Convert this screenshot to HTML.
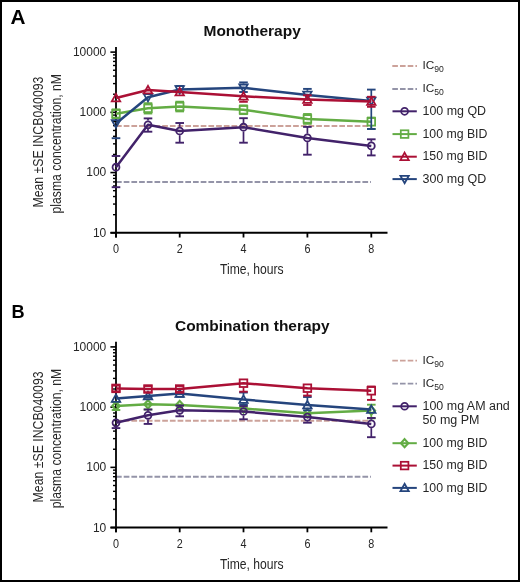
<!DOCTYPE html>
<html><head><meta charset="utf-8"><style>
html,body{margin:0;padding:0;background:#fff;}
svg{display:block;will-change:transform;}
</style></head><body>
<svg width="520" height="582" viewBox="0 0 520 582" font-family="Liberation Sans, sans-serif">
<rect x="1" y="1" width="518" height="580" fill="#fff" stroke="#000" stroke-width="2"/><text x="10.5" y="24" font-size="19.3" font-weight="bold" fill="#000" textLength="15" lengthAdjust="spacingAndGlyphs">A</text><text x="11.5" y="318.2" font-size="19" font-weight="bold" fill="#000" textLength="13.1" lengthAdjust="spacingAndGlyphs">B</text><text x="203.5" y="36.2" font-size="14.8" font-weight="bold" fill="#111" textLength="97.3" lengthAdjust="spacingAndGlyphs">Monotherapy</text><text x="175" y="330.7" font-size="14.6" font-weight="bold" fill="#111" textLength="154.6" lengthAdjust="spacingAndGlyphs">Combination therapy</text><line x1="116" y1="126" x2="371" y2="126" stroke="#cca29a" stroke-width="2" stroke-dasharray="5.7 2"/><line x1="116" y1="181.9" x2="371" y2="181.9" stroke="#9494a8" stroke-width="2" stroke-dasharray="5.7 2"/><line x1="116" y1="47" x2="116" y2="237.5" stroke="#000" stroke-width="1.8"/><line x1="110.5" y1="232.8" x2="387.5" y2="232.8" stroke="#000" stroke-width="2"/><line x1="110.4" y1="232.80" x2="116" y2="232.80" stroke="#000" stroke-width="1.6"/><text x="106.3" y="236.70" text-anchor="end" font-size="12" fill="#262626">10</text><line x1="113" y1="214.67" x2="116" y2="214.67" stroke="#000" stroke-width="1.4"/><line x1="113" y1="204.06" x2="116" y2="204.06" stroke="#000" stroke-width="1.4"/><line x1="113" y1="196.54" x2="116" y2="196.54" stroke="#000" stroke-width="1.4"/><line x1="113" y1="190.70" x2="116" y2="190.70" stroke="#000" stroke-width="1.4"/><line x1="113" y1="185.93" x2="116" y2="185.93" stroke="#000" stroke-width="1.4"/><line x1="113" y1="181.90" x2="116" y2="181.90" stroke="#000" stroke-width="1.4"/><line x1="113" y1="178.41" x2="116" y2="178.41" stroke="#000" stroke-width="1.4"/><line x1="113" y1="175.33" x2="116" y2="175.33" stroke="#000" stroke-width="1.4"/><line x1="110.4" y1="172.57" x2="116" y2="172.57" stroke="#000" stroke-width="1.6"/><text x="106.3" y="176.47" text-anchor="end" font-size="12" fill="#262626">100</text><line x1="113" y1="154.44" x2="116" y2="154.44" stroke="#000" stroke-width="1.4"/><line x1="113" y1="143.83" x2="116" y2="143.83" stroke="#000" stroke-width="1.4"/><line x1="113" y1="136.31" x2="116" y2="136.31" stroke="#000" stroke-width="1.4"/><line x1="113" y1="130.47" x2="116" y2="130.47" stroke="#000" stroke-width="1.4"/><line x1="113" y1="125.70" x2="116" y2="125.70" stroke="#000" stroke-width="1.4"/><line x1="113" y1="121.67" x2="116" y2="121.67" stroke="#000" stroke-width="1.4"/><line x1="113" y1="118.18" x2="116" y2="118.18" stroke="#000" stroke-width="1.4"/><line x1="113" y1="115.10" x2="116" y2="115.10" stroke="#000" stroke-width="1.4"/><line x1="110.4" y1="112.34" x2="116" y2="112.34" stroke="#000" stroke-width="1.6"/><text x="106.3" y="116.24" text-anchor="end" font-size="12" fill="#262626">1000</text><line x1="113" y1="94.21" x2="116" y2="94.21" stroke="#000" stroke-width="1.4"/><line x1="113" y1="83.60" x2="116" y2="83.60" stroke="#000" stroke-width="1.4"/><line x1="113" y1="76.08" x2="116" y2="76.08" stroke="#000" stroke-width="1.4"/><line x1="113" y1="70.24" x2="116" y2="70.24" stroke="#000" stroke-width="1.4"/><line x1="113" y1="65.47" x2="116" y2="65.47" stroke="#000" stroke-width="1.4"/><line x1="113" y1="61.44" x2="116" y2="61.44" stroke="#000" stroke-width="1.4"/><line x1="113" y1="57.95" x2="116" y2="57.95" stroke="#000" stroke-width="1.4"/><line x1="113" y1="54.87" x2="116" y2="54.87" stroke="#000" stroke-width="1.4"/><line x1="110.4" y1="52.11" x2="116" y2="52.11" stroke="#000" stroke-width="1.6"/><text x="106.3" y="56.01" text-anchor="end" font-size="12" fill="#262626">10000</text><line x1="116" y1="232.8" x2="116" y2="237.5" stroke="#000" stroke-width="1.8"/><text x="116" y="253.2" text-anchor="middle" font-size="12" fill="#262626" transform="translate(116,0) scale(0.9,1) translate(-116,0)">0</text><line x1="179.7" y1="232.8" x2="179.7" y2="237.5" stroke="#000" stroke-width="1.8"/><text x="179.7" y="253.2" text-anchor="middle" font-size="12" fill="#262626" transform="translate(179.7,0) scale(0.9,1) translate(-179.7,0)">2</text><line x1="243.5" y1="232.8" x2="243.5" y2="237.5" stroke="#000" stroke-width="1.8"/><text x="243.5" y="253.2" text-anchor="middle" font-size="12" fill="#262626" transform="translate(243.5,0) scale(0.9,1) translate(-243.5,0)">4</text><line x1="307.4" y1="232.8" x2="307.4" y2="237.5" stroke="#000" stroke-width="1.8"/><text x="307.4" y="253.2" text-anchor="middle" font-size="12" fill="#262626" transform="translate(307.4,0) scale(0.9,1) translate(-307.4,0)">6</text><line x1="371.3" y1="232.8" x2="371.3" y2="237.5" stroke="#000" stroke-width="1.8"/><text x="371.3" y="253.2" text-anchor="middle" font-size="12" fill="#262626" transform="translate(371.3,0) scale(0.9,1) translate(-371.3,0)">8</text><text x="220.1" y="274.2" font-size="15" fill="#262626" textLength="63.6" lengthAdjust="spacingAndGlyphs">Time, hours</text><g transform="translate(42.9,207.6) rotate(-90)"><text x="0" y="0" font-size="15" fill="#262626" textLength="131" lengthAdjust="spacingAndGlyphs">Mean ±SE INCB040093</text></g><g transform="translate(61.1,213.4) rotate(-90)"><text x="0" y="0" font-size="15" fill="#262626" textLength="139.3" lengthAdjust="spacingAndGlyphs">plasma concentration, nM</text></g><path d="M116,167.2 L148,124.8 L179.7,131 L243.5,127.2 L307.4,137.9 L371.3,145.9" fill="none" stroke="#42226a" stroke-width="2.5" stroke-linejoin="round"/><line x1="111.70" y1="156" x2="120.30" y2="156" stroke="#42226a" stroke-width="1.9"/><line x1="111.70" y1="187.2" x2="120.30" y2="187.2" stroke="#42226a" stroke-width="1.9"/><line x1="148" y1="118.4" x2="148" y2="120.60" stroke="#42226a" stroke-width="1.7"/><line x1="143.70" y1="118.4" x2="152.30" y2="118.4" stroke="#42226a" stroke-width="1.9"/><line x1="148" y1="129.00" x2="148" y2="131.7" stroke="#42226a" stroke-width="1.7"/><line x1="143.70" y1="131.7" x2="152.30" y2="131.7" stroke="#42226a" stroke-width="1.9"/><line x1="179.7" y1="123" x2="179.7" y2="126.80" stroke="#42226a" stroke-width="1.7"/><line x1="175.40" y1="123" x2="184.00" y2="123" stroke="#42226a" stroke-width="1.9"/><line x1="179.7" y1="135.20" x2="179.7" y2="142.7" stroke="#42226a" stroke-width="1.7"/><line x1="175.40" y1="142.7" x2="184.00" y2="142.7" stroke="#42226a" stroke-width="1.9"/><line x1="243.5" y1="118.2" x2="243.5" y2="123.00" stroke="#42226a" stroke-width="1.7"/><line x1="239.20" y1="118.2" x2="247.80" y2="118.2" stroke="#42226a" stroke-width="1.9"/><line x1="243.5" y1="131.40" x2="243.5" y2="142.7" stroke="#42226a" stroke-width="1.7"/><line x1="239.20" y1="142.7" x2="247.80" y2="142.7" stroke="#42226a" stroke-width="1.9"/><line x1="307.4" y1="126.9" x2="307.4" y2="133.70" stroke="#42226a" stroke-width="1.7"/><line x1="303.10" y1="126.9" x2="311.70" y2="126.9" stroke="#42226a" stroke-width="1.9"/><line x1="307.4" y1="142.10" x2="307.4" y2="154.7" stroke="#42226a" stroke-width="1.7"/><line x1="303.10" y1="154.7" x2="311.70" y2="154.7" stroke="#42226a" stroke-width="1.9"/><line x1="371.3" y1="139.3" x2="371.3" y2="141.70" stroke="#42226a" stroke-width="1.7"/><line x1="367.00" y1="139.3" x2="375.60" y2="139.3" stroke="#42226a" stroke-width="1.9"/><line x1="371.3" y1="150.10" x2="371.3" y2="155.4" stroke="#42226a" stroke-width="1.7"/><line x1="367.00" y1="155.4" x2="375.60" y2="155.4" stroke="#42226a" stroke-width="1.9"/><circle cx="116" cy="167.2" r="3.45" fill="none" stroke="#42226a" stroke-width="1.8"/><circle cx="148" cy="124.8" r="3.45" fill="none" stroke="#42226a" stroke-width="1.8"/><circle cx="179.7" cy="131" r="3.45" fill="none" stroke="#42226a" stroke-width="1.8"/><circle cx="243.5" cy="127.2" r="3.45" fill="none" stroke="#42226a" stroke-width="1.8"/><circle cx="307.4" cy="137.9" r="3.45" fill="none" stroke="#42226a" stroke-width="1.8"/><circle cx="371.3" cy="145.9" r="3.45" fill="none" stroke="#42226a" stroke-width="1.8"/><path d="M116,113.8 L148,108.3 L179.7,106.5 L243.5,109.8 L307.4,118.9 L371.3,121.8" fill="none" stroke="#63ac44" stroke-width="2.5" stroke-linejoin="round"/><line x1="111.70" y1="109.4" x2="120.30" y2="109.4" stroke="#63ac44" stroke-width="1.9"/><line x1="111.70" y1="118.2" x2="120.30" y2="118.2" stroke="#63ac44" stroke-width="1.9"/><line x1="148" y1="103.2" x2="148" y2="104.10" stroke="#63ac44" stroke-width="1.7"/><line x1="143.70" y1="103.2" x2="152.30" y2="103.2" stroke="#63ac44" stroke-width="1.9"/><line x1="148" y1="112.50" x2="148" y2="113.5" stroke="#63ac44" stroke-width="1.7"/><line x1="143.70" y1="113.5" x2="152.30" y2="113.5" stroke="#63ac44" stroke-width="1.9"/><line x1="179.7" y1="101.7" x2="179.7" y2="102.30" stroke="#63ac44" stroke-width="1.7"/><line x1="175.40" y1="101.7" x2="184.00" y2="101.7" stroke="#63ac44" stroke-width="1.9"/><line x1="179.7" y1="110.70" x2="179.7" y2="111.4" stroke="#63ac44" stroke-width="1.7"/><line x1="175.40" y1="111.4" x2="184.00" y2="111.4" stroke="#63ac44" stroke-width="1.9"/><line x1="243.5" y1="105.4" x2="243.5" y2="105.60" stroke="#63ac44" stroke-width="1.7"/><line x1="239.20" y1="105.4" x2="247.80" y2="105.4" stroke="#63ac44" stroke-width="1.9"/><line x1="243.5" y1="114.00" x2="243.5" y2="114.1" stroke="#63ac44" stroke-width="1.7"/><line x1="239.20" y1="114.1" x2="247.80" y2="114.1" stroke="#63ac44" stroke-width="1.9"/><line x1="307.4" y1="114" x2="307.4" y2="114.70" stroke="#63ac44" stroke-width="1.7"/><line x1="303.10" y1="114" x2="311.70" y2="114" stroke="#63ac44" stroke-width="1.9"/><line x1="307.4" y1="123.10" x2="307.4" y2="123.8" stroke="#63ac44" stroke-width="1.7"/><line x1="303.10" y1="123.8" x2="311.70" y2="123.8" stroke="#63ac44" stroke-width="1.9"/><line x1="367.00" y1="117.6" x2="375.60" y2="117.6" stroke="#63ac44" stroke-width="1.9"/><line x1="371.3" y1="126.00" x2="371.3" y2="129" stroke="#63ac44" stroke-width="1.7"/><line x1="367.00" y1="129" x2="375.60" y2="129" stroke="#63ac44" stroke-width="1.9"/><rect x="112.20" y="110.00" width="7.6" height="7.6" fill="none" stroke="#63ac44" stroke-width="1.8"/><rect x="144.20" y="104.50" width="7.6" height="7.6" fill="none" stroke="#63ac44" stroke-width="1.8"/><rect x="175.90" y="102.70" width="7.6" height="7.6" fill="none" stroke="#63ac44" stroke-width="1.8"/><rect x="239.70" y="106.00" width="7.6" height="7.6" fill="none" stroke="#63ac44" stroke-width="1.8"/><rect x="303.60" y="115.10" width="7.6" height="7.6" fill="none" stroke="#63ac44" stroke-width="1.8"/><rect x="367.50" y="118.00" width="7.6" height="7.6" fill="none" stroke="#63ac44" stroke-width="1.8"/><path d="M116,123.5 L148,97.3 L179.7,89.5 L243.5,87.8 L307.4,95 L371.3,101" fill="none" stroke="#25457d" stroke-width="2.5" stroke-linejoin="round"/><line x1="111.70" y1="138.2" x2="120.30" y2="138.2" stroke="#25457d" stroke-width="1.9"/><line x1="175.40" y1="86" x2="184.00" y2="86" stroke="#25457d" stroke-width="1.9"/><line x1="243.5" y1="82.4" x2="243.5" y2="83.60" stroke="#25457d" stroke-width="1.7"/><line x1="239.20" y1="82.4" x2="247.80" y2="82.4" stroke="#25457d" stroke-width="1.9"/><line x1="239.20" y1="92" x2="247.80" y2="92" stroke="#25457d" stroke-width="1.9"/><line x1="307.4" y1="88.9" x2="307.4" y2="90.80" stroke="#25457d" stroke-width="1.7"/><line x1="303.10" y1="88.9" x2="311.70" y2="88.9" stroke="#25457d" stroke-width="1.9"/><line x1="371.3" y1="89.6" x2="371.3" y2="96.80" stroke="#25457d" stroke-width="1.7"/><line x1="367.00" y1="89.6" x2="375.60" y2="89.6" stroke="#25457d" stroke-width="1.9"/><line x1="371.3" y1="105.20" x2="371.3" y2="129" stroke="#25457d" stroke-width="1.7"/><line x1="367.00" y1="129" x2="375.60" y2="129" stroke="#25457d" stroke-width="1.9"/><path d="M116,127.60 L120.20,120.20 L111.80,120.20 Z" fill="none" stroke="#25457d" stroke-width="1.8"/><path d="M148,101.40 L152.20,94.00 L143.80,94.00 Z" fill="none" stroke="#25457d" stroke-width="1.8"/><path d="M179.7,93.60 L183.90,86.20 L175.50,86.20 Z" fill="none" stroke="#25457d" stroke-width="1.8"/><path d="M243.5,91.90 L247.70,84.50 L239.30,84.50 Z" fill="none" stroke="#25457d" stroke-width="1.8"/><path d="M307.4,99.10 L311.60,91.70 L303.20,91.70 Z" fill="none" stroke="#25457d" stroke-width="1.8"/><path d="M371.3,105.10 L375.50,97.70 L367.10,97.70 Z" fill="none" stroke="#25457d" stroke-width="1.8"/><path d="M116,98 L148,90 L179.7,92 L243.5,96.3 L307.4,99.6 L371.3,101.6" fill="none" stroke="#ab1035" stroke-width="2.5" stroke-linejoin="round"/><line x1="243.5" y1="100.50" x2="243.5" y2="101.8" stroke="#ab1035" stroke-width="1.7"/><line x1="239.20" y1="101.8" x2="247.80" y2="101.8" stroke="#ab1035" stroke-width="1.9"/><line x1="307.4" y1="95.3" x2="307.4" y2="95.40" stroke="#ab1035" stroke-width="1.7"/><line x1="303.10" y1="95.3" x2="311.70" y2="95.3" stroke="#ab1035" stroke-width="1.9"/><line x1="307.4" y1="103.80" x2="307.4" y2="105" stroke="#ab1035" stroke-width="1.7"/><line x1="303.10" y1="105" x2="311.70" y2="105" stroke="#ab1035" stroke-width="1.9"/><line x1="371.3" y1="96.8" x2="371.3" y2="97.40" stroke="#ab1035" stroke-width="1.7"/><line x1="367.00" y1="96.8" x2="375.60" y2="96.8" stroke="#ab1035" stroke-width="1.9"/><line x1="371.3" y1="105.80" x2="371.3" y2="106.8" stroke="#ab1035" stroke-width="1.7"/><line x1="367.00" y1="106.8" x2="375.60" y2="106.8" stroke="#ab1035" stroke-width="1.9"/><path d="M116,93.90 L120.20,101.30 L111.80,101.30 Z" fill="none" stroke="#ab1035" stroke-width="1.8"/><path d="M148,85.90 L152.20,93.30 L143.80,93.30 Z" fill="none" stroke="#ab1035" stroke-width="1.8"/><path d="M179.7,87.90 L183.90,95.30 L175.50,95.30 Z" fill="none" stroke="#ab1035" stroke-width="1.8"/><path d="M243.5,92.20 L247.70,99.60 L239.30,99.60 Z" fill="none" stroke="#ab1035" stroke-width="1.8"/><path d="M307.4,95.50 L311.60,102.90 L303.20,102.90 Z" fill="none" stroke="#ab1035" stroke-width="1.8"/><path d="M371.3,97.50 L375.50,104.90 L367.10,104.90 Z" fill="none" stroke="#ab1035" stroke-width="1.8"/><line x1="392.3" y1="66" x2="417" y2="66" stroke="#cca29a" stroke-width="1.8" stroke-dasharray="5.6 2.1"/><text x="422.5" y="69.2" font-size="11.8" fill="#262626">IC<tspan font-size="8.6" dy="2.6">90</tspan></text><line x1="392.3" y1="89" x2="417" y2="89" stroke="#9494a8" stroke-width="1.8" stroke-dasharray="5.6 2.1"/><text x="422.5" y="92.2" font-size="11.8" fill="#262626">IC<tspan font-size="8.6" dy="2.6">50</tspan></text><line x1="392.5" y1="111.3" x2="416.8" y2="111.3" stroke="#42226a" stroke-width="2"/><circle cx="404.6" cy="111.3" r="3.45" fill="none" stroke="#42226a" stroke-width="1.75"/><text x="422.5" y="114.9" font-size="12" fill="#262626" textLength="63.6" lengthAdjust="spacingAndGlyphs">100 mg QD</text><line x1="392.5" y1="134.1" x2="416.8" y2="134.1" stroke="#63ac44" stroke-width="2"/><rect x="400.80" y="130.30" width="7.6" height="7.6" fill="none" stroke="#63ac44" stroke-width="1.75"/><text x="422.5" y="137.7" font-size="12" fill="#262626" textLength="64.9" lengthAdjust="spacingAndGlyphs">100 mg BID</text><line x1="392.5" y1="156.7" x2="416.8" y2="156.7" stroke="#ab1035" stroke-width="2"/><path d="M404.6,152.60 L408.80,160.00 L400.40,160.00 Z" fill="none" stroke="#ab1035" stroke-width="1.75"/><text x="422.5" y="160.3" font-size="12" fill="#262626" textLength="64.9" lengthAdjust="spacingAndGlyphs">150 mg BID</text><line x1="392.5" y1="179.1" x2="416.8" y2="179.1" stroke="#25457d" stroke-width="2"/><path d="M404.6,183.20 L408.80,175.80 L400.40,175.80 Z" fill="none" stroke="#25457d" stroke-width="1.75"/><text x="422.5" y="182.7" font-size="12" fill="#262626" textLength="63.8" lengthAdjust="spacingAndGlyphs">300 mg QD</text><line x1="116" y1="420.8" x2="371" y2="420.8" stroke="#cca29a" stroke-width="2" stroke-dasharray="5.7 2"/><line x1="116" y1="476.70000000000005" x2="371" y2="476.70000000000005" stroke="#9494a8" stroke-width="2" stroke-dasharray="5.7 2"/><line x1="116" y1="341.8" x2="116" y2="532.3" stroke="#000" stroke-width="1.8"/><line x1="110.5" y1="527.6" x2="387.5" y2="527.6" stroke="#000" stroke-width="2"/><line x1="110.4" y1="527.60" x2="116" y2="527.60" stroke="#000" stroke-width="1.6"/><text x="106.3" y="531.50" text-anchor="end" font-size="12" fill="#262626">10</text><line x1="113" y1="509.47" x2="116" y2="509.47" stroke="#000" stroke-width="1.4"/><line x1="113" y1="498.86" x2="116" y2="498.86" stroke="#000" stroke-width="1.4"/><line x1="113" y1="491.34" x2="116" y2="491.34" stroke="#000" stroke-width="1.4"/><line x1="113" y1="485.50" x2="116" y2="485.50" stroke="#000" stroke-width="1.4"/><line x1="113" y1="480.73" x2="116" y2="480.73" stroke="#000" stroke-width="1.4"/><line x1="113" y1="476.70" x2="116" y2="476.70" stroke="#000" stroke-width="1.4"/><line x1="113" y1="473.21" x2="116" y2="473.21" stroke="#000" stroke-width="1.4"/><line x1="113" y1="470.13" x2="116" y2="470.13" stroke="#000" stroke-width="1.4"/><line x1="110.4" y1="467.37" x2="116" y2="467.37" stroke="#000" stroke-width="1.6"/><text x="106.3" y="471.27" text-anchor="end" font-size="12" fill="#262626">100</text><line x1="113" y1="449.24" x2="116" y2="449.24" stroke="#000" stroke-width="1.4"/><line x1="113" y1="438.63" x2="116" y2="438.63" stroke="#000" stroke-width="1.4"/><line x1="113" y1="431.11" x2="116" y2="431.11" stroke="#000" stroke-width="1.4"/><line x1="113" y1="425.27" x2="116" y2="425.27" stroke="#000" stroke-width="1.4"/><line x1="113" y1="420.50" x2="116" y2="420.50" stroke="#000" stroke-width="1.4"/><line x1="113" y1="416.47" x2="116" y2="416.47" stroke="#000" stroke-width="1.4"/><line x1="113" y1="412.98" x2="116" y2="412.98" stroke="#000" stroke-width="1.4"/><line x1="113" y1="409.90" x2="116" y2="409.90" stroke="#000" stroke-width="1.4"/><line x1="110.4" y1="407.14" x2="116" y2="407.14" stroke="#000" stroke-width="1.6"/><text x="106.3" y="411.04" text-anchor="end" font-size="12" fill="#262626">1000</text><line x1="113" y1="389.01" x2="116" y2="389.01" stroke="#000" stroke-width="1.4"/><line x1="113" y1="378.40" x2="116" y2="378.40" stroke="#000" stroke-width="1.4"/><line x1="113" y1="370.88" x2="116" y2="370.88" stroke="#000" stroke-width="1.4"/><line x1="113" y1="365.04" x2="116" y2="365.04" stroke="#000" stroke-width="1.4"/><line x1="113" y1="360.27" x2="116" y2="360.27" stroke="#000" stroke-width="1.4"/><line x1="113" y1="356.24" x2="116" y2="356.24" stroke="#000" stroke-width="1.4"/><line x1="113" y1="352.75" x2="116" y2="352.75" stroke="#000" stroke-width="1.4"/><line x1="113" y1="349.67" x2="116" y2="349.67" stroke="#000" stroke-width="1.4"/><line x1="110.4" y1="346.91" x2="116" y2="346.91" stroke="#000" stroke-width="1.6"/><text x="106.3" y="350.81" text-anchor="end" font-size="12" fill="#262626">10000</text><line x1="116" y1="527.6" x2="116" y2="532.3" stroke="#000" stroke-width="1.8"/><text x="116" y="548.0" text-anchor="middle" font-size="12" fill="#262626" transform="translate(116,0) scale(0.9,1) translate(-116,0)">0</text><line x1="179.7" y1="527.6" x2="179.7" y2="532.3" stroke="#000" stroke-width="1.8"/><text x="179.7" y="548.0" text-anchor="middle" font-size="12" fill="#262626" transform="translate(179.7,0) scale(0.9,1) translate(-179.7,0)">2</text><line x1="243.5" y1="527.6" x2="243.5" y2="532.3" stroke="#000" stroke-width="1.8"/><text x="243.5" y="548.0" text-anchor="middle" font-size="12" fill="#262626" transform="translate(243.5,0) scale(0.9,1) translate(-243.5,0)">4</text><line x1="307.4" y1="527.6" x2="307.4" y2="532.3" stroke="#000" stroke-width="1.8"/><text x="307.4" y="548.0" text-anchor="middle" font-size="12" fill="#262626" transform="translate(307.4,0) scale(0.9,1) translate(-307.4,0)">6</text><line x1="371.3" y1="527.6" x2="371.3" y2="532.3" stroke="#000" stroke-width="1.8"/><text x="371.3" y="548.0" text-anchor="middle" font-size="12" fill="#262626" transform="translate(371.3,0) scale(0.9,1) translate(-371.3,0)">8</text><text x="220.1" y="569.0" font-size="15" fill="#262626" textLength="63.6" lengthAdjust="spacingAndGlyphs">Time, hours</text><g transform="translate(42.9,502.4) rotate(-90)"><text x="0" y="0" font-size="15" fill="#262626" textLength="131" lengthAdjust="spacingAndGlyphs">Mean ±SE INCB040093</text></g><g transform="translate(61.1,508.2) rotate(-90)"><text x="0" y="0" font-size="15" fill="#262626" textLength="139.3" lengthAdjust="spacingAndGlyphs">plasma concentration, nM</text></g><path d="M116,406 L148,404.3 L179.7,405 L243.5,408.5 L307.4,413.2 L371.3,410.5" fill="none" stroke="#63ac44" stroke-width="2.5" stroke-linejoin="round"/><line x1="111.70" y1="402" x2="120.30" y2="402" stroke="#63ac44" stroke-width="1.9"/><line x1="111.70" y1="410" x2="120.30" y2="410" stroke="#63ac44" stroke-width="1.9"/><line x1="148" y1="408.50" x2="148" y2="409.5" stroke="#63ac44" stroke-width="1.7"/><line x1="143.70" y1="409.5" x2="152.30" y2="409.5" stroke="#63ac44" stroke-width="1.9"/><line x1="371.3" y1="404.7" x2="371.3" y2="406.30" stroke="#63ac44" stroke-width="1.7"/><line x1="367.00" y1="404.7" x2="375.60" y2="404.7" stroke="#63ac44" stroke-width="1.9"/><line x1="371.3" y1="414.70" x2="371.3" y2="418.3" stroke="#63ac44" stroke-width="1.7"/><line x1="367.00" y1="418.3" x2="375.60" y2="418.3" stroke="#63ac44" stroke-width="1.9"/><path d="M116,401.90 L119.70,406 L116,410.10 L112.30,406 Z" fill="none" stroke="#63ac44" stroke-width="2.16"/><path d="M148,400.20 L151.70,404.3 L148,408.40 L144.30,404.3 Z" fill="none" stroke="#63ac44" stroke-width="2.16"/><path d="M179.7,400.90 L183.40,405 L179.7,409.10 L176.00,405 Z" fill="none" stroke="#63ac44" stroke-width="2.16"/><path d="M243.5,404.40 L247.20,408.5 L243.5,412.60 L239.80,408.5 Z" fill="none" stroke="#63ac44" stroke-width="2.16"/><path d="M307.4,409.10 L311.10,413.2 L307.4,417.30 L303.70,413.2 Z" fill="none" stroke="#63ac44" stroke-width="2.16"/><path d="M371.3,406.40 L375.00,410.5 L371.3,414.60 L367.60,410.5 Z" fill="none" stroke="#63ac44" stroke-width="2.16"/><path d="M116,422.8 L148,415.3 L179.7,410.3 L243.5,411.5 L307.4,417.1 L371.3,423.9" fill="none" stroke="#42226a" stroke-width="2.5" stroke-linejoin="round"/><line x1="111.70" y1="428.1" x2="120.30" y2="428.1" stroke="#42226a" stroke-width="1.9"/><line x1="148" y1="409.5" x2="148" y2="411.10" stroke="#42226a" stroke-width="1.7"/><line x1="143.70" y1="409.5" x2="152.30" y2="409.5" stroke="#42226a" stroke-width="1.9"/><line x1="148" y1="419.50" x2="148" y2="423.9" stroke="#42226a" stroke-width="1.7"/><line x1="143.70" y1="423.9" x2="152.30" y2="423.9" stroke="#42226a" stroke-width="1.9"/><line x1="179.7" y1="405.5" x2="179.7" y2="406.10" stroke="#42226a" stroke-width="1.7"/><line x1="175.40" y1="405.5" x2="184.00" y2="405.5" stroke="#42226a" stroke-width="1.9"/><line x1="179.7" y1="414.50" x2="179.7" y2="416.3" stroke="#42226a" stroke-width="1.7"/><line x1="175.40" y1="416.3" x2="184.00" y2="416.3" stroke="#42226a" stroke-width="1.9"/><line x1="243.5" y1="406" x2="243.5" y2="407.30" stroke="#42226a" stroke-width="1.7"/><line x1="239.20" y1="406" x2="247.80" y2="406" stroke="#42226a" stroke-width="1.9"/><line x1="243.5" y1="415.70" x2="243.5" y2="419.3" stroke="#42226a" stroke-width="1.7"/><line x1="239.20" y1="419.3" x2="247.80" y2="419.3" stroke="#42226a" stroke-width="1.9"/><line x1="307.4" y1="421.30" x2="307.4" y2="422.7" stroke="#42226a" stroke-width="1.7"/><line x1="303.10" y1="422.7" x2="311.70" y2="422.7" stroke="#42226a" stroke-width="1.9"/><line x1="371.3" y1="418" x2="371.3" y2="419.70" stroke="#42226a" stroke-width="1.7"/><line x1="367.00" y1="418" x2="375.60" y2="418" stroke="#42226a" stroke-width="1.9"/><line x1="371.3" y1="428.10" x2="371.3" y2="437.2" stroke="#42226a" stroke-width="1.7"/><line x1="367.00" y1="437.2" x2="375.60" y2="437.2" stroke="#42226a" stroke-width="1.9"/><circle cx="116" cy="422.8" r="3.45" fill="none" stroke="#42226a" stroke-width="1.8"/><circle cx="148" cy="415.3" r="3.45" fill="none" stroke="#42226a" stroke-width="1.8"/><circle cx="179.7" cy="410.3" r="3.45" fill="none" stroke="#42226a" stroke-width="1.8"/><circle cx="243.5" cy="411.5" r="3.45" fill="none" stroke="#42226a" stroke-width="1.8"/><circle cx="307.4" cy="417.1" r="3.45" fill="none" stroke="#42226a" stroke-width="1.8"/><circle cx="371.3" cy="423.9" r="3.45" fill="none" stroke="#42226a" stroke-width="1.8"/><path d="M116,398.5 L148,396 L179.7,393.5 L243.5,399.5 L307.4,405 L371.3,409.5" fill="none" stroke="#25457d" stroke-width="2.5" stroke-linejoin="round"/><line x1="143.70" y1="397.7" x2="152.30" y2="397.7" stroke="#25457d" stroke-width="1.9"/><line x1="175.40" y1="396.8" x2="184.00" y2="396.8" stroke="#25457d" stroke-width="1.9"/><line x1="243.5" y1="392.5" x2="243.5" y2="395.30" stroke="#25457d" stroke-width="1.7"/><line x1="239.20" y1="392.5" x2="247.80" y2="392.5" stroke="#25457d" stroke-width="1.9"/><line x1="243.5" y1="403.70" x2="243.5" y2="404.5" stroke="#25457d" stroke-width="1.7"/><line x1="239.20" y1="404.5" x2="247.80" y2="404.5" stroke="#25457d" stroke-width="1.9"/><line x1="307.4" y1="397" x2="307.4" y2="400.80" stroke="#25457d" stroke-width="1.7"/><line x1="303.10" y1="397" x2="311.70" y2="397" stroke="#25457d" stroke-width="1.9"/><line x1="307.4" y1="409.20" x2="307.4" y2="410.3" stroke="#25457d" stroke-width="1.7"/><line x1="303.10" y1="410.3" x2="311.70" y2="410.3" stroke="#25457d" stroke-width="1.9"/><path d="M116,394.40 L120.20,401.80 L111.80,401.80 Z" fill="none" stroke="#25457d" stroke-width="1.8"/><path d="M148,391.90 L152.20,399.30 L143.80,399.30 Z" fill="none" stroke="#25457d" stroke-width="1.8"/><path d="M179.7,389.40 L183.90,396.80 L175.50,396.80 Z" fill="none" stroke="#25457d" stroke-width="1.8"/><path d="M243.5,395.40 L247.70,402.80 L239.30,402.80 Z" fill="none" stroke="#25457d" stroke-width="1.8"/><path d="M307.4,400.90 L311.60,408.30 L303.20,408.30 Z" fill="none" stroke="#25457d" stroke-width="1.8"/><path d="M371.3,405.40 L375.50,412.80 L367.10,412.80 Z" fill="none" stroke="#25457d" stroke-width="1.8"/><path d="M116,388.4 L148,389 L179.7,389 L243.5,383.2 L307.4,388.2 L371.3,390.8" fill="none" stroke="#ab1035" stroke-width="2.5" stroke-linejoin="round"/><line x1="111.70" y1="385.6" x2="120.30" y2="385.6" stroke="#ab1035" stroke-width="1.9"/><line x1="111.70" y1="391.3" x2="120.30" y2="391.3" stroke="#ab1035" stroke-width="1.9"/><line x1="143.70" y1="386" x2="152.30" y2="386" stroke="#ab1035" stroke-width="1.9"/><line x1="143.70" y1="392.2" x2="152.30" y2="392.2" stroke="#ab1035" stroke-width="1.9"/><line x1="175.40" y1="386" x2="184.00" y2="386" stroke="#ab1035" stroke-width="1.9"/><line x1="175.40" y1="392" x2="184.00" y2="392" stroke="#ab1035" stroke-width="1.9"/><line x1="243.5" y1="387.40" x2="243.5" y2="391.7" stroke="#ab1035" stroke-width="1.7"/><line x1="239.20" y1="391.7" x2="247.80" y2="391.7" stroke="#ab1035" stroke-width="1.9"/><line x1="307.4" y1="392.40" x2="307.4" y2="395.6" stroke="#ab1035" stroke-width="1.7"/><line x1="303.10" y1="395.6" x2="311.70" y2="395.6" stroke="#ab1035" stroke-width="1.9"/><line x1="371.3" y1="386.5" x2="371.3" y2="386.60" stroke="#ab1035" stroke-width="1.7"/><line x1="367.00" y1="386.5" x2="375.60" y2="386.5" stroke="#ab1035" stroke-width="1.9"/><line x1="371.3" y1="395.00" x2="371.3" y2="399.9" stroke="#ab1035" stroke-width="1.7"/><line x1="367.00" y1="399.9" x2="375.60" y2="399.9" stroke="#ab1035" stroke-width="1.9"/><rect x="112.20" y="384.60" width="7.6" height="7.6" fill="none" stroke="#ab1035" stroke-width="1.8"/><rect x="144.20" y="385.20" width="7.6" height="7.6" fill="none" stroke="#ab1035" stroke-width="1.8"/><rect x="175.90" y="385.20" width="7.6" height="7.6" fill="none" stroke="#ab1035" stroke-width="1.8"/><rect x="239.70" y="379.40" width="7.6" height="7.6" fill="none" stroke="#ab1035" stroke-width="1.8"/><rect x="303.60" y="384.40" width="7.6" height="7.6" fill="none" stroke="#ab1035" stroke-width="1.8"/><rect x="367.50" y="387.00" width="7.6" height="7.6" fill="none" stroke="#ab1035" stroke-width="1.8"/><line x1="392.3" y1="360.7" x2="417" y2="360.7" stroke="#cca29a" stroke-width="1.8" stroke-dasharray="5.6 2.1"/><text x="422.5" y="363.9" font-size="11.8" fill="#262626">IC<tspan font-size="8.6" dy="2.6">90</tspan></text><line x1="392.3" y1="383.7" x2="417" y2="383.7" stroke="#9494a8" stroke-width="1.8" stroke-dasharray="5.6 2.1"/><text x="422.5" y="386.9" font-size="11.8" fill="#262626">IC<tspan font-size="8.6" dy="2.6">50</tspan></text><line x1="392.5" y1="406.3" x2="416.8" y2="406.3" stroke="#42226a" stroke-width="2"/><circle cx="404.6" cy="406.3" r="3.45" fill="none" stroke="#42226a" stroke-width="1.75"/><text x="422.5" y="409.9" font-size="12" fill="#262626" textLength="87.3" lengthAdjust="spacingAndGlyphs">100 mg AM and</text><text x="422.5" y="423.8" font-size="12" fill="#262626" textLength="57.0" lengthAdjust="spacingAndGlyphs">50 mg PM</text><line x1="392.5" y1="443.2" x2="416.8" y2="443.2" stroke="#63ac44" stroke-width="2"/><path d="M404.6,439.10 L408.30,443.2 L404.6,447.30 L400.90,443.2 Z" fill="none" stroke="#63ac44" stroke-width="2.1"/><text x="422.5" y="446.8" font-size="12" fill="#262626" textLength="64.9" lengthAdjust="spacingAndGlyphs">100 mg BID</text><line x1="392.5" y1="465.6" x2="416.8" y2="465.6" stroke="#ab1035" stroke-width="2"/><rect x="400.80" y="461.80" width="7.6" height="7.6" fill="none" stroke="#ab1035" stroke-width="1.75"/><text x="422.5" y="469.2" font-size="12" fill="#262626" textLength="64.9" lengthAdjust="spacingAndGlyphs">150 mg BID</text><line x1="392.5" y1="487.9" x2="416.8" y2="487.9" stroke="#25457d" stroke-width="2"/><path d="M404.6,483.80 L408.80,491.20 L400.40,491.20 Z" fill="none" stroke="#25457d" stroke-width="1.75"/><text x="422.5" y="491.5" font-size="12" fill="#262626" textLength="64.9" lengthAdjust="spacingAndGlyphs">100 mg BID</text>
</svg>
</body></html>
